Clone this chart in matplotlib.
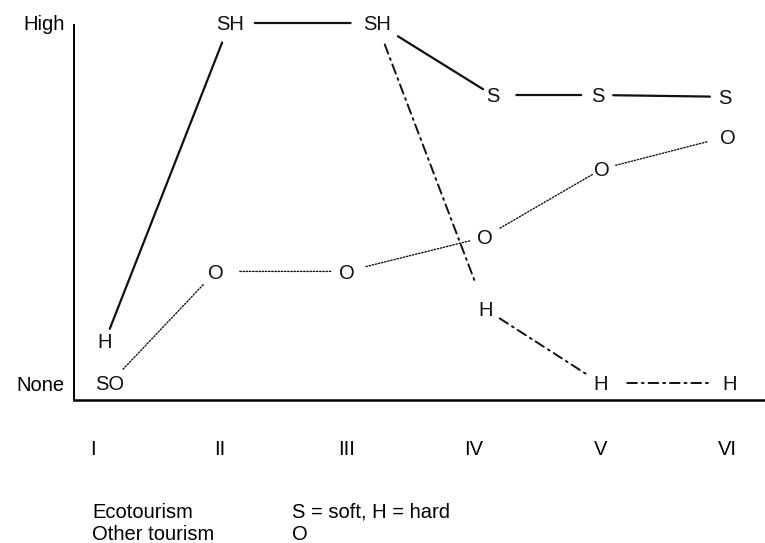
import matplotlib
matplotlib.use('Agg')
import matplotlib.pyplot as plt
from matplotlib.transforms import ScaledTranslation

plt.rcParams['font.family'] = ['Liberation Sans', 'DejaVu Sans']

# stages of development and the level of each kind of tourism (0 = none, 10 = high)
stages = ['I', 'II', 'III', 'IV', 'V', 'VI']
soft = [0, 10, 10, 8, 8, 7.95]
hard = [1.17, 10, 10, 2.05, 0, 0]
other = [0, 3.1, 3.1, 4.05, 5.95, 6.85]

series = {'S': soft, 'H': hard, 'O': other}

# letters that share a value at a stage are written together (SH, SO)
nodes = {}
for i in range(len(stages)):
    groups = {}
    for letter, vals in series.items():
        groups.setdefault(vals[i], []).append(letter)
    for v, letters in groups.items():
        txt = ''.join(letters)
        for l in letters:
            nodes[(l, i)] = (txt, i, v)

# sideways nudges of the letters (pixels), as in the hand drawn original
nudge = {('SO', 0): 17, ('H', 0): 12, ('SH', 1): 10, ('O', 1): -4,
         ('SH', 2): 30, ('O', 2): 0, ('S', 3): 19, ('O', 3): 11, ('H', 3): 12,
         ('S', 4): -2, ('O', 4): 2, ('H', 4): 0, ('S', 5): -2, ('O', 5): 1,
         ('H', 5): 3}

# paths: (nodes, linestyle, linewidth, gaps in px at each end of each segment)
paths = [
    ([('H', 0)] + [('S', i) for i in range(1, 6)], '-', 1.6,
     [(13, 21), (25, 26), (25, 11), (24, 17), (15, 15)]),
    ([('H', i) for i in range(2, 6)], (0, (5, 2.5, 1, 2.5)), 1.4,
     [(23, 29), (17, 14), (27, 22)]),
    ([('O', i) for i in range(6)], (0, (1, 1.3)), 1.0,
     [(19, 18), (24, 15), (20, 15), (18, 11), (14, 21)]),
]

fig = plt.figure(figsize=(7.65, 5.43), dpi=100)
ax = fig.add_axes([74 / 765, 143 / 543, (765 - 74) / 765, (400 - 23) / 543])
ax.set_xlim(-0.15, 5.3)
ax.set_ylim(-0.472, 10)

fs = 14.5
cap = 0.716 * fs * 100 / 72


def node_trans(key):
    txt, x, y = nodes[key]
    return ax.transData + ScaledTranslation(nudge[(txt, x)] / 100, 0, fig.dpi_scale_trans)


drawn = set()
for key, (txt, x, y) in nodes.items():
    if (txt, x) in drawn:
        continue
    drawn.add((txt, x))
    t = node_trans(key) + ScaledTranslation(0, -cap / 2 / 100, fig.dpi_scale_trans)
    ax.text(x, y, txt, transform=t, ha='center', va='baseline', fontsize=fs,
            color='#111111', clip_on=False)

for keys, ls, lw, gaps in paths:
    for (k1, k2), (g1, g2) in zip(zip(keys[:-1], keys[1:]), gaps):
        _, x1, y1 = nodes[k1]
        _, x2, y2 = nodes[k2]
        ax.annotate('', xy=(x2, y2), xycoords=node_trans(k2),
                    xytext=(x1, y1), textcoords=node_trans(k1),
                    arrowprops=dict(arrowstyle='-', shrinkA=g1 * 0.72, shrinkB=g2 * 0.72,
                                    lw=lw, ls=ls, color='#111111'))

for s in ['top', 'right']:
    ax.spines[s].set_visible(False)
ax.spines['left'].set_linewidth(1.4)
ax.spines['bottom'].set_linewidth(1.8)
ax.spines['left'].set_bounds(-0.472, 9.94)

ax.set_xticks(range(len(stages)), stages)
ax.set_yticks([0, 10], ['None', 'High'])
ax.tick_params(axis='x', length=0, pad=29, labelsize=fs)
ax.tick_params(axis='y', length=0, pad=7, labelsize=fs)

fig.text(92 / 765, 1 - 518 / 543, 'Ecotourism', fontsize=fs, va='baseline')
fig.text(292 / 765, 1 - 518 / 543, 'S = soft, H = hard', fontsize=fs, va='baseline')
fig.text(92 / 765, 1 - 540 / 543, 'Other tourism', fontsize=fs, va='baseline')
fig.text(292 / 765, 1 - 540 / 543, 'O', fontsize=fs, va='baseline')

fig.savefig('out.png', dpi=100)
